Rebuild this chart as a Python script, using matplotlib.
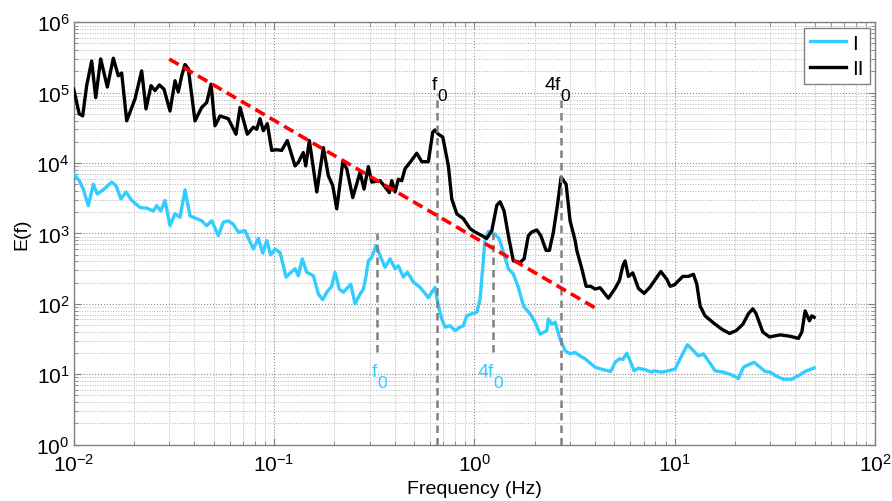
#!/usr/bin/env python3
"""Energy spectra E(f) of two records (I, II) with -5/3 slope and f0 / 4f0 markers."""
import numpy as np
import matplotlib
matplotlib.use("Agg")
import matplotlib.pyplot as plt

# --- data (frequency in Hz, log10 of E) ---
f_II = [0.0100, 0.01066, 0.01109, 0.01161, 0.01230, 0.01288, 0.01364, 0.01472, 0.01577, 0.01670,
        0.01736, 0.01839, 0.02023, 0.02185, 0.02296, 0.02432, 0.02547, 0.02676, 0.02824, 0.03026,
        0.03205, 0.03328, 0.03461, 0.03595, 0.03734, 0.04033, 0.04355, 0.04613, 0.04848, 0.05075,
        0.05376, 0.05913, 0.06461, 0.06766, 0.07357, 0.07880, 0.08195, 0.08512, 0.08841, 0.09256,
        0.09739, 0.1031, 0.1092, 0.1165, 0.1273, 0.1322, 0.1400, 0.1440, 0.1501, 0.1635,
        0.1763, 0.1867, 0.1964, 0.2056, 0.2203, 0.2307, 0.2472, 0.2688, 0.2814, 0.2957,
        0.3075, 0.3382, 0.3583, 0.3763, 0.3869, 0.4019, 0.4174, 0.4340, 0.4508, 0.4775,
        0.5158, 0.5463, 0.5893, 0.6198, 0.6364, 0.6612, 0.6954, 0.7418, 0.7714, 0.8167,
        0.8812, 0.9517, 1.008, 1.089, 1.153, 1.222, 1.294, 1.344, 1.407, 1.478,
        1.565, 1.691, 1.771, 1.860, 1.934, 2.049, 2.145, 2.280, 2.369, 2.480,
        2.597, 2.710, 2.870, 3.005, 3.183, 3.245, 3.438, 3.612, 3.812, 4.006,
        4.243, 4.667, 5.040, 5.296, 5.507, 5.654, 5.873, 6.178, 6.589, 7.036,
        7.539, 8.521, 9.131, 9.485, 9.966, 10.97, 11.70, 12.40, 12.89, 13.39,
        14.18, 15.61, 17.19, 18.76, 20.26, 21.88, 23.33, 24.54, 25.49, 27.53,
        29.71, 33.60, 37.69, 41.46, 43.11, 44.77, 47.04, 48.36, 49.66]
logE_II = [5.05, 4.70, 4.67, 5.10, 5.45, 4.93, 5.48, 5.08, 5.49, 5.24,
           5.28, 4.60, 4.91, 5.31, 4.77, 5.10, 5.03, 5.11, 5.05, 4.74,
           5.17, 5.01, 5.24, 5.40, 5.34, 4.60, 4.79, 4.86, 5.12, 4.53,
           4.67, 4.63, 4.41, 4.79, 4.41, 4.51, 4.48, 4.63, 4.46, 4.56,
           4.18, 4.19, 4.18, 4.32, 3.96, 4.01, 4.15, 3.96, 4.32, 3.59,
           4.22, 3.82, 3.68, 3.35, 4.01, 3.92, 3.51, 3.87, 3.63, 3.95,
           3.73, 3.75, 3.66, 3.58, 3.75, 3.59, 3.77, 3.75, 3.92, 4.01,
           4.14, 4.02, 4.02, 4.44, 4.47, 4.41, 4.37, 3.96, 3.49, 3.28,
           3.21, 3.07, 3.02, 2.97, 2.93, 3.04, 3.40, 3.45, 3.32, 2.97,
           2.61, 2.59, 2.64, 2.97, 3.02, 3.05, 2.97, 2.76, 2.76, 3.02,
           3.40, 3.80, 3.70, 3.18, 2.90, 2.76, 2.50, 2.25, 2.25, 2.21,
           2.23, 2.08, 2.22, 2.33, 2.54, 2.61, 2.39, 2.44, 2.22, 2.15,
           2.24, 2.46, 2.35, 2.25, 2.27, 2.39, 2.39, 2.42, 2.28, 1.97,
           1.83, 1.73, 1.64, 1.58, 1.62, 1.71, 1.86, 1.93, 1.86, 1.60,
           1.53, 1.56, 1.54, 1.51, 1.60, 1.90, 1.76, 1.83, 1.81]

f_I = [0.0100, 0.01066, 0.01117, 0.01183, 0.01253, 0.01312, 0.01417, 0.01548, 0.01626, 0.01722,
       0.01824, 0.01948, 0.02143, 0.02315, 0.02497, 0.02597, 0.02719, 0.02856, 0.03026, 0.03205,
       0.03394, 0.03595, 0.03807, 0.04113, 0.04355, 0.04613, 0.04887, 0.05272, 0.05584, 0.05913,
       0.06263, 0.06634, 0.07165, 0.07880, 0.08349, 0.08782, 0.09195, 0.09627, 0.1012, 0.1072,
       0.1148, 0.1192, 0.1273, 0.1322, 0.1384, 0.1456, 0.1572, 0.1665, 0.1751, 0.1833,
       0.1941, 0.2016, 0.2118, 0.2218, 0.2416, 0.2538, 0.2688, 0.2792, 0.2880, 0.2957,
       0.3075, 0.3230, 0.3382, 0.3583, 0.3794, 0.4019, 0.4174, 0.4421, 0.4629, 0.4960,
       0.5357, 0.5893, 0.6364, 0.6612, 0.6876, 0.7142, 0.7565, 0.8011, 0.8484, 0.8812,
       0.9162, 0.9705, 1.028, 1.068, 1.102, 1.131, 1.175, 1.269, 1.333, 1.396,
       1.478, 1.565, 1.658, 1.757, 1.897, 2.010, 2.128, 2.299, 2.342, 2.435,
       2.529, 2.679, 2.837, 3.005, 3.183, 3.371, 3.571, 4.006, 4.406, 4.797,
       5.040, 5.296, 5.507, 5.767, 5.989, 6.271, 6.589, 7.117, 7.689, 7.895,
       8.622, 9.302, 10.05, 10.64, 11.57, 12.40, 13.13, 13.91, 14.73, 15.91,
       17.51, 19.28, 20.80, 22.03, 23.33, 24.91, 26.70, 28.28, 29.95, 32.35,
       34.89, 38.42, 41.46, 44.77, 49.66]
logE_I = [3.845, 3.75, 3.63, 3.395, 3.70, 3.56, 3.63, 3.73, 3.68, 3.49,
          3.59, 3.47, 3.37, 3.36, 3.32, 3.395, 3.32, 3.47, 3.11, 3.28,
          3.23, 3.62, 3.25, 3.21, 3.18, 3.11, 3.18, 2.97, 3.16, 3.18,
          3.13, 3.02, 3.04, 2.78, 2.93, 2.72, 2.90, 2.695, 2.78, 2.73,
          2.38, 2.425, 2.50, 2.40, 2.64, 2.45, 2.40, 2.14, 2.06, 2.165,
          2.25, 2.45, 2.21, 2.165, 2.28, 2.00, 2.14, 2.21, 2.40, 2.61,
          2.66, 2.83, 2.685, 2.52, 2.64, 2.50, 2.54, 2.38, 2.45, 2.31,
          2.235, 2.09, 2.235, 1.97, 1.785, 1.67, 1.69, 1.62, 1.67, 1.69,
          1.83, 1.86, 1.88, 2.07, 2.54, 2.92, 3.03, 2.99, 2.92, 2.73,
          2.50, 2.425, 2.235, 1.97, 1.86, 1.74, 1.57, 1.62, 1.785, 1.71,
          1.74, 1.50, 1.335, 1.29, 1.31, 1.26, 1.22, 1.10, 1.065, 1.04,
          1.17, 1.22, 1.21, 1.30, 1.19, 1.05, 1.085, 1.065, 1.03, 1.05,
          1.03, 1.05, 1.075, 1.22, 1.42, 1.335, 1.26, 1.29, 1.19, 1.05,
          1.03, 0.99, 0.94, 1.10, 1.135, 1.17, 1.10, 1.04, 1.03, 0.97,
          0.93, 0.93, 0.98, 1.04, 1.09]

# -5/3 reference line end points
slope_f = [0.03, 4.0]
slope_E = [3.0e5, 8.8e1]

# resonance markers: frequency, dashed line top / bottom, label baseline, label
marks_II = [(0.651, 9.5e4, 1.0, 1.13e5, "f"), (2.70, 9.5e4, 1.0, 1.13e5, "4f")]
marks_I = [(0.328, 1.0e3, 21.0, 9.5, "f"), (1.245, 1.0e3, 21.0, 9.5, "4f")]

BLUE = "#33CCFF"
GRAY = "#808080"

plt.rcParams["font.family"] = ["Liberation Sans", "DejaVu Sans"]
plt.rcParams["mathtext.fontset"] = "custom"
plt.rcParams["mathtext.rm"] = "Liberation Sans"
plt.rcParams["mathtext.it"] = "Liberation Sans"
plt.rcParams["mathtext.default"] = "regular"

fig = plt.figure(figsize=(8.92, 5.02), dpi=100, facecolor="white")
ax = fig.add_axes([0.0826, 0.1122, 0.8984, 0.8414])

ax.plot(f_I, 10 ** np.array(logE_I), color=BLUE, lw=2.4, label="I", zorder=3)
ax.plot(f_II, 10 ** np.array(logE_II), color="black", lw=2.4, label="II", zorder=3)


def marker(f, top, bot, base, lab, color):
    ax.plot([f, f], [bot, top], color=GRAY, lw=1.8, ls=(0, (3, 2)), zorder=4)
    ax.text(f, base, lab, ha="right", va="baseline", fontsize=14, color=color, zorder=5)
    ax.annotate("0", (f, base), xytext=(0, -8), textcoords="offset points",
                ha="left", va="baseline", fontsize=12.5, color=color, zorder=5)


for f, top, bot, base, lab in marks_II:
    marker(f, top, bot, base, lab, "black")
for f, top, bot, base, lab in marks_I:
    marker(f, top, bot, base, lab, BLUE)

ax.plot(slope_f, slope_E, color="red", lw=2.6, ls=(0, (3, 1.6)), zorder=5)

ax.set_xscale("log")
ax.set_yscale("log")
ax.set_xlim(1e-2, 1e2)
ax.set_ylim(1e0, 1e6)

ax.grid(True, which="major", ls=":", lw=0.8, color="#8c8c8c")
ax.grid(True, which="minor", ls=":", lw=0.7, color="#b4b4b4")
ax.set_axisbelow(True)

for sp in ax.spines.values():
    sp.set_color(GRAY)
    sp.set_linewidth(1.0)
ax.tick_params(which="both", direction="in", top=True, right=True, color=GRAY,
               labelsize=15, labelcolor="black")
ax.tick_params(which="major", length=5)
ax.tick_params(axis="x", which="major", pad=6)
ax.tick_params(axis="y", which="major", pad=3)
ax.tick_params(which="minor", length=3)

ax.set_xlabel("Frequency (Hz)", fontsize=14, labelpad=4)
ax.set_ylabel("E(f)", fontsize=14, labelpad=4)

leg = ax.legend(loc="upper right", fontsize=15, fancybox=False, framealpha=1,
                edgecolor=GRAY, handlelength=1.7, borderaxespad=0.25,
                handletextpad=0.3, borderpad=0.3, labelspacing=0.3)
leg.get_frame().set_linewidth(1.0)

fig.savefig("out.png", dpi=100, facecolor="white")
plt.close(fig)
